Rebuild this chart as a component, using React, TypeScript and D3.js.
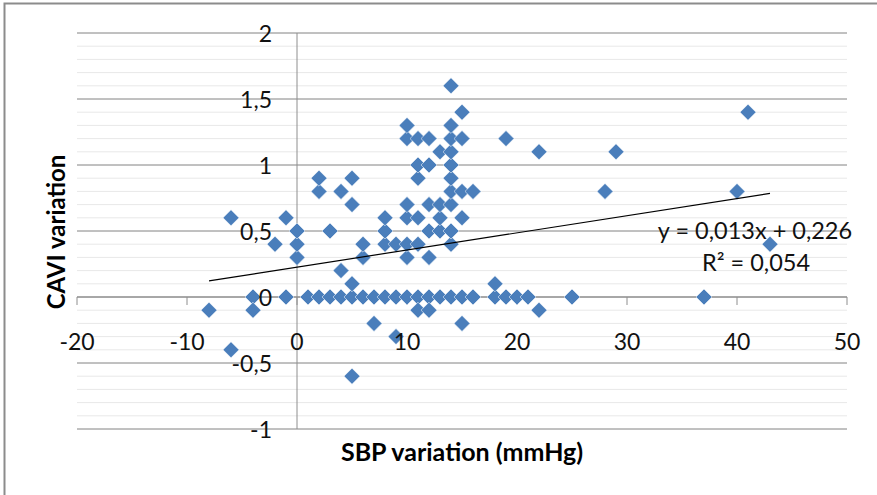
import React from 'react';
import * as d3 from 'd3';

// SBP variation (mmHg) and CAVI variation, one entry per patient
const sbpVariation = [
  -4, -1, 1, 2, 3, 4, 5, 6, 7, 8, 9, 10, 11, 12, 13, 14, 15, 16, 18, 19, 20, 21, 25, 37,
  -8, -4, 11, 12, 22,
  7, 15, 9, -6, 5,
  5, 18, 4,
  0, 6, 10, 12,
  -2, 0, 6, 8, 9, 10, 11, 14, 43,
  0, 3, 8, 12, 13, 14,
  -6, -1, 8, 10, 11, 13, 15,
  5, 10, 12, 13, 14,
  2, 4, 14, 15, 16, 28, 40,
  2, 5, 11, 14,
  11, 12, 14,
  13, 14, 22, 29,
  10, 11, 12, 14, 15, 19,
  10, 14,
  15, 41,
  14,
];
const caviVariation = [
  0, 0, 0, 0, 0, 0, 0, 0, 0, 0, 0, 0, 0, 0, 0, 0, 0, 0, 0, 0, 0, 0, 0, 0,
  -0.1, -0.1, -0.1, -0.1, -0.1,
  -0.2, -0.2, -0.3, -0.4, -0.6,
  0.1, 0.1, 0.2,
  0.3, 0.3, 0.3, 0.3,
  0.4, 0.4, 0.4, 0.4, 0.4, 0.4, 0.4, 0.4, 0.4,
  0.5, 0.5, 0.5, 0.5, 0.5, 0.5,
  0.6, 0.6, 0.6, 0.6, 0.6, 0.6, 0.6,
  0.7, 0.7, 0.7, 0.7, 0.7,
  0.8, 0.8, 0.8, 0.8, 0.8, 0.8, 0.8,
  0.9, 0.9, 0.9, 0.9,
  1, 1, 1,
  1.1, 1.1, 1.1, 1.1,
  1.2, 1.2, 1.2, 1.2, 1.2, 1.2,
  1.3, 1.3,
  1.4, 1.4,
  1.6,
];

const xTicks = [-20, -10, 0, 10, 20, 30, 40, 50];
const yTicks = [-1, -0.5, 0, 0.5, 1, 1.5, 2];

// linear trendline shown on the chart
const trendSlope = 0.013;
const trendIntercept = 0.226;
const equationText = 'y = 0,013x + 0,226';
const r2Text = 'R² = 0,054';

const FONT = 'Lato, "Open Sans", sans-serif';

export default function App() {
  const width = 877;
  const height = 495;

  const x = d3.scaleLinear().domain([-20, 50]).range([77, 847]);
  const y = d3.scaleLinear().domain([-1, 2]).range([429, 33]);

  const minorTicks = d3.range(-10, 21).map(d => d / 10);
  const fmt = (v: number) => String(v).replace('.', ',');

  const diamond = d3.symbol(d3.symbolSquare, 128)() as string;

  const [xMin, xMax] = d3.extent(sbpVariation) as [number, number];
  const trendPath = d3.line<number>()
    .x(d => x(d))
    .y(d => y(trendSlope * d + trendIntercept))([xMin, xMax]) as string;

  const points = sbpVariation.map((v, i) => ({ sbp: v, cavi: caviVariation[i] }));

  return (
    <svg width={width} height={height} style={{ position: 'absolute', left: 0, top: 0, background: '#fff' }}>
      {/* chart frame */}
      <rect x={4.5} y={3.5} width={900} height={520} fill="#fff" stroke="#8c8c8c" strokeWidth={2} />

      {/* minor gridlines */}
      {minorTicks.map(t => (
        <line key={'m' + t} x1={x(-20)} x2={x(50)} y1={y(t)} y2={y(t)} stroke="#e8e8e8" strokeWidth={1} />
      ))}
      {/* major gridlines */}
      {yTicks.map(t => (
        <line key={'g' + t} x1={x(-20)} x2={x(50)} y1={y(t)} y2={y(t)} stroke="#8e8e8e" strokeWidth={1} />
      ))}

      {/* axes */}
      <line x1={x(0)} x2={x(0)} y1={y(2)} y2={y(-1)} stroke="#8e8e8e" strokeWidth={1} />
      <line x1={x(-20)} x2={x(50)} y1={y(0)} y2={y(0)} stroke="#8e8e8e" strokeWidth={1} />
      {xTicks.map(t => (
        <line key={'t' + t} x1={x(t)} x2={x(t)} y1={y(0)} y2={y(0) + 8} stroke="#8e8e8e" strokeWidth={1} />
      ))}

      {/* points */}
      {points.map((p, i) => (
        <path
          key={i}
          d={diamond}
          transform={`translate(${x(p.sbp)},${y(p.cavi)}) rotate(45)`}
          fill="#4a7ebb"
          stroke="#fff"
          strokeWidth={0.5}
        />
      ))}

      {/* trendline */}
      <path d={trendPath} fill="none" stroke="#000" strokeWidth={1.2} />

      {/* tick labels */}
      <g fontFamily={FONT} fontSize={23} fill="#111">
        {yTicks.map(t => (
          <text key={'yl' + t} x={272} y={y(t)} textAnchor="end" dominantBaseline="central">{fmt(t)}</text>
        ))}
        {xTicks.map(t => (
          <text key={'xl' + t} x={x(t)} y={341} textAnchor="middle" dominantBaseline="central">{fmt(t)}</text>
        ))}
        <text x={755} y={239} textAnchor="middle" fontSize={23.5}>{equationText}</text>
        <text x={756} y={271} textAnchor="middle" fontSize={23.5}>{r2Text}</text>
      </g>

      {/* axis titles */}
      <g fontFamily={FONT} fontSize={25} fontWeight="bold" fill="#000">
        <text x={462} y={451} textAnchor="middle" dominantBaseline="central">SBP variation (mmHg)</text>
        <text transform={`translate(55,232) rotate(-90)`} textAnchor="middle" dominantBaseline="central" fontSize={24}>CAVI variation</text>
      </g>
    </svg>
  );
}
